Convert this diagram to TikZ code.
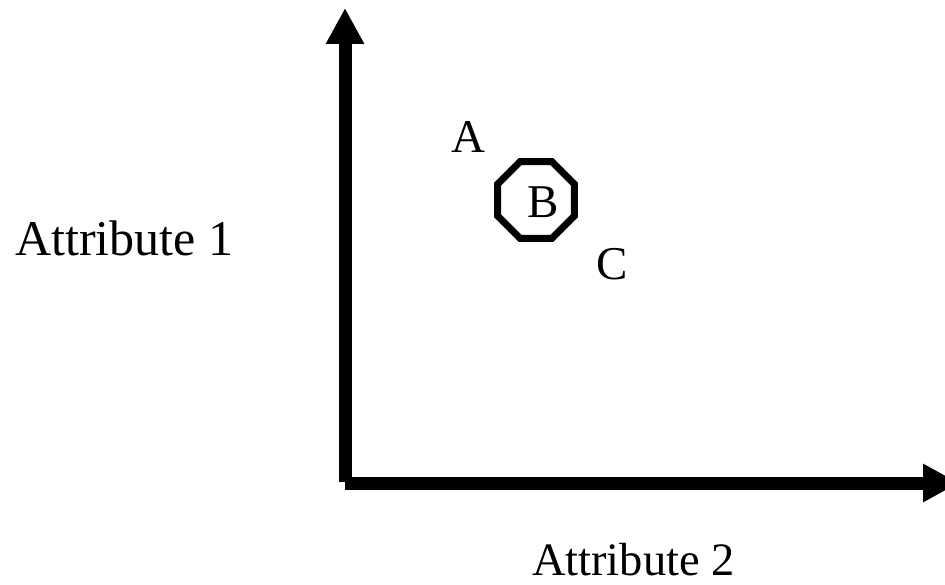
\documentclass[tikz,border=0pt]{standalone}
\usepackage{fontspec}
\setmainfont{Liberation Serif}
\usetikzlibrary{arrows.meta,shapes.geometric}
\begin{document}
\begin{tikzpicture}[x=1pt,y=-1pt,
  axis/.style={line width=13pt,line cap=butt,-{Triangle[length=36pt,width=36pt]}},
  lbl/.style={inner sep=0pt,font=\fontsize{47}{56}\selectfont},
  octo/.style={regular polygon,regular polygon sides=8,draw,line width=7pt,minimum size=83pt,inner sep=0pt}]
\useasboundingbox (0,0) rectangle (945,585);
\coordinate (o) at (345,483);
\coordinate (ytip) at (345,8);
\coordinate (xtip) at (959,483);
\draw[axis] ([yshift=1pt]o) -- (ytip);
\draw[axis] (o) -- (xtip);
\node[octo] (oct) at (536,200) {};
\node[lbl,anchor=base] (b) at (543,218) {B};
\node[lbl,anchor=base] (a) at (468,153) {A};
\node[lbl,anchor=base] (c) at (612,280) {C};
\node[inner sep=0pt,anchor=base west,font=\fontsize{50}{60}\selectfont] (att1) at (15,256) {Attribute 1};
\node[inner sep=0pt,anchor=base east,font=\fontsize{46.5}{56}\selectfont] (att2) at (735,575) {Attribute 2};
\end{tikzpicture}
\end{document}
